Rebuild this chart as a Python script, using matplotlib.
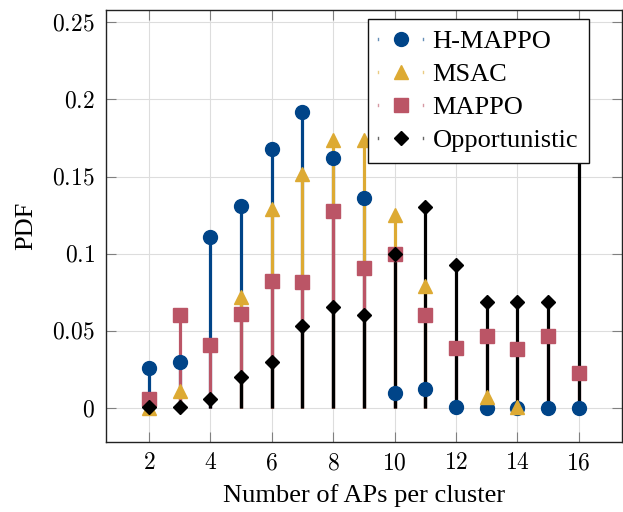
import matplotlib
matplotlib.use("Agg")
import matplotlib.pyplot as plt
from matplotlib.lines import Line2D
from matplotlib.legend_handler import HandlerBase
import numpy as np

nan = float("nan")

# Number of APs per cluster
cluster_sizes = [2, 3, 4, 5, 6, 7, 8, 9, 10, 11, 12, 13, 14, 15, 16]

h_mappo = [0.026, 0.030, 0.111, 0.131, 0.168, 0.192, 0.162, 0.136,
           0.0095, 0.0126, 0.0005, 0.0, 0.0, 0.0, 0.0]
msac = [0.0, 0.011, nan, 0.072, 0.129, 0.152, 0.174, 0.174,
        0.125, 0.079, nan, 0.0073, 0.001, nan, nan]
mappo = [0.006, 0.060, 0.041, 0.061, 0.0825, 0.082, 0.128, 0.091,
         0.100, 0.060, 0.039, 0.047, 0.038, 0.047, 0.023]
opportunistic = [0.0005, 0.001, 0.0056, 0.020, 0.030, 0.0535, 0.0655, 0.060,
                 0.100, 0.130, 0.093, 0.0685, 0.0685, 0.0685, 0.235]

series_names = ["H-MAPPO", "MSAC", "MAPPO", "Opportunistic"]
y_ticks = [0, 0.05, 0.1, 0.15, 0.2, 0.25]
y_tick_labels = ["0", "0.05", "0.1", "0.15", "0.2", "0.25"]
x_ticks = [2, 4, 6, 8, 10, 12, 14, 16]

plt.rcParams["font.family"] = ["Liberation Serif", "DejaVu Serif"]
plt.rcParams["mathtext.fontset"] = "cm"

styles = [
    dict(color="#004488", marker="o", ms=10),
    dict(color="#DDAA33", marker="^", ms=10),
    dict(color="#BB5566", marker="s", ms=9.5),
    dict(color="#000000", marker="D", ms=7),
]

fig = plt.figure(figsize=(6.23, 5.12), dpi=100)
ax = fig.add_axes([0.170, 0.1367, 0.828, 0.8438])

x = np.array(cluster_sizes, dtype=float)
all_series = [np.array(s, dtype=float) for s in (h_mappo, msac, mappo, opportunistic)]

# stems first, then all markers on top
for i, (vals, st) in enumerate(zip(all_series, styles)):
    ok = ~np.isnan(vals)
    ax.vlines(x[ok], 0, vals[ok], color=st["color"], lw=2.3, zorder=2 + 0.1 * i)
for i, (vals, st) in enumerate(zip(all_series, styles)):
    ok = ~np.isnan(vals)
    ax.plot(x[ok], vals[ok], ls="none", marker=st["marker"], ms=st["ms"],
            color=st["color"], mec=st["color"], zorder=3 + 0.1 * i,
            label=series_names[i])

ax.set_xlim(0.6, 17.4)
ax.set_ylim(-0.022, 0.258)
ax.set_xticks(x_ticks)
ax.set_xticklabels([f"${t}$" for t in x_ticks])
ax.set_yticks(y_ticks)
ax.set_yticklabels([f"${t}$" for t in y_tick_labels])
ax.tick_params(direction="in", top=True, right=True, length=7.5, width=0.8,
               color="#808080", labelsize=17, pad=8)
ax.grid(True, color="#dddddd", lw=0.8, zorder=0)
ax.set_axisbelow(True)
for sp in ax.spines.values():
    sp.set_linewidth(1.0)
    sp.set_color("#222222")

ax.set_xlabel("Number of APs per cluster", fontsize=19, labelpad=7)
ax.set_ylabel("PDF", fontsize=19, labelpad=11)


class CombHandler(HandlerBase):
    def __init__(self, style):
        super().__init__()
        self.style = style

    def create_artists(self, legend, orig_handle, xdescent, ydescent,
                       width, height, fontsize, trans):
        st = self.style
        cy = height / 2 - ydescent
        artists = []
        for xx in (-xdescent, width - xdescent):
            artists.append(Line2D([xx, xx], [cy - 1, cy + 1],
                                  color=st["color"], lw=1.0, alpha=0.6,
                                  transform=trans))
        artists.append(Line2D([(width - xdescent * 2) / 2], [cy], ls="none",
                              marker=st["marker"], ms=st["ms"],
                              color=st["color"], mec=st["color"],
                              transform=trans))
        return artists


handles = ax.get_lines()
leg = ax.legend(handles=handles, labels=series_names,
                handler_map={h: CombHandler(st) for h, st in zip(handles, styles)},
                loc="upper right", bbox_to_anchor=(0.936, 0.9785),
                fontsize=19, frameon=True, fancybox=False, framealpha=1,
                edgecolor="#111111", borderpad=0.4, labelspacing=0.36,
                handlelength=1.7, handletextpad=0.35, borderaxespad=0)
leg.get_frame().set_linewidth(1.0)
leg.set_zorder(10)

fig.savefig("out.png", dpi=100)
